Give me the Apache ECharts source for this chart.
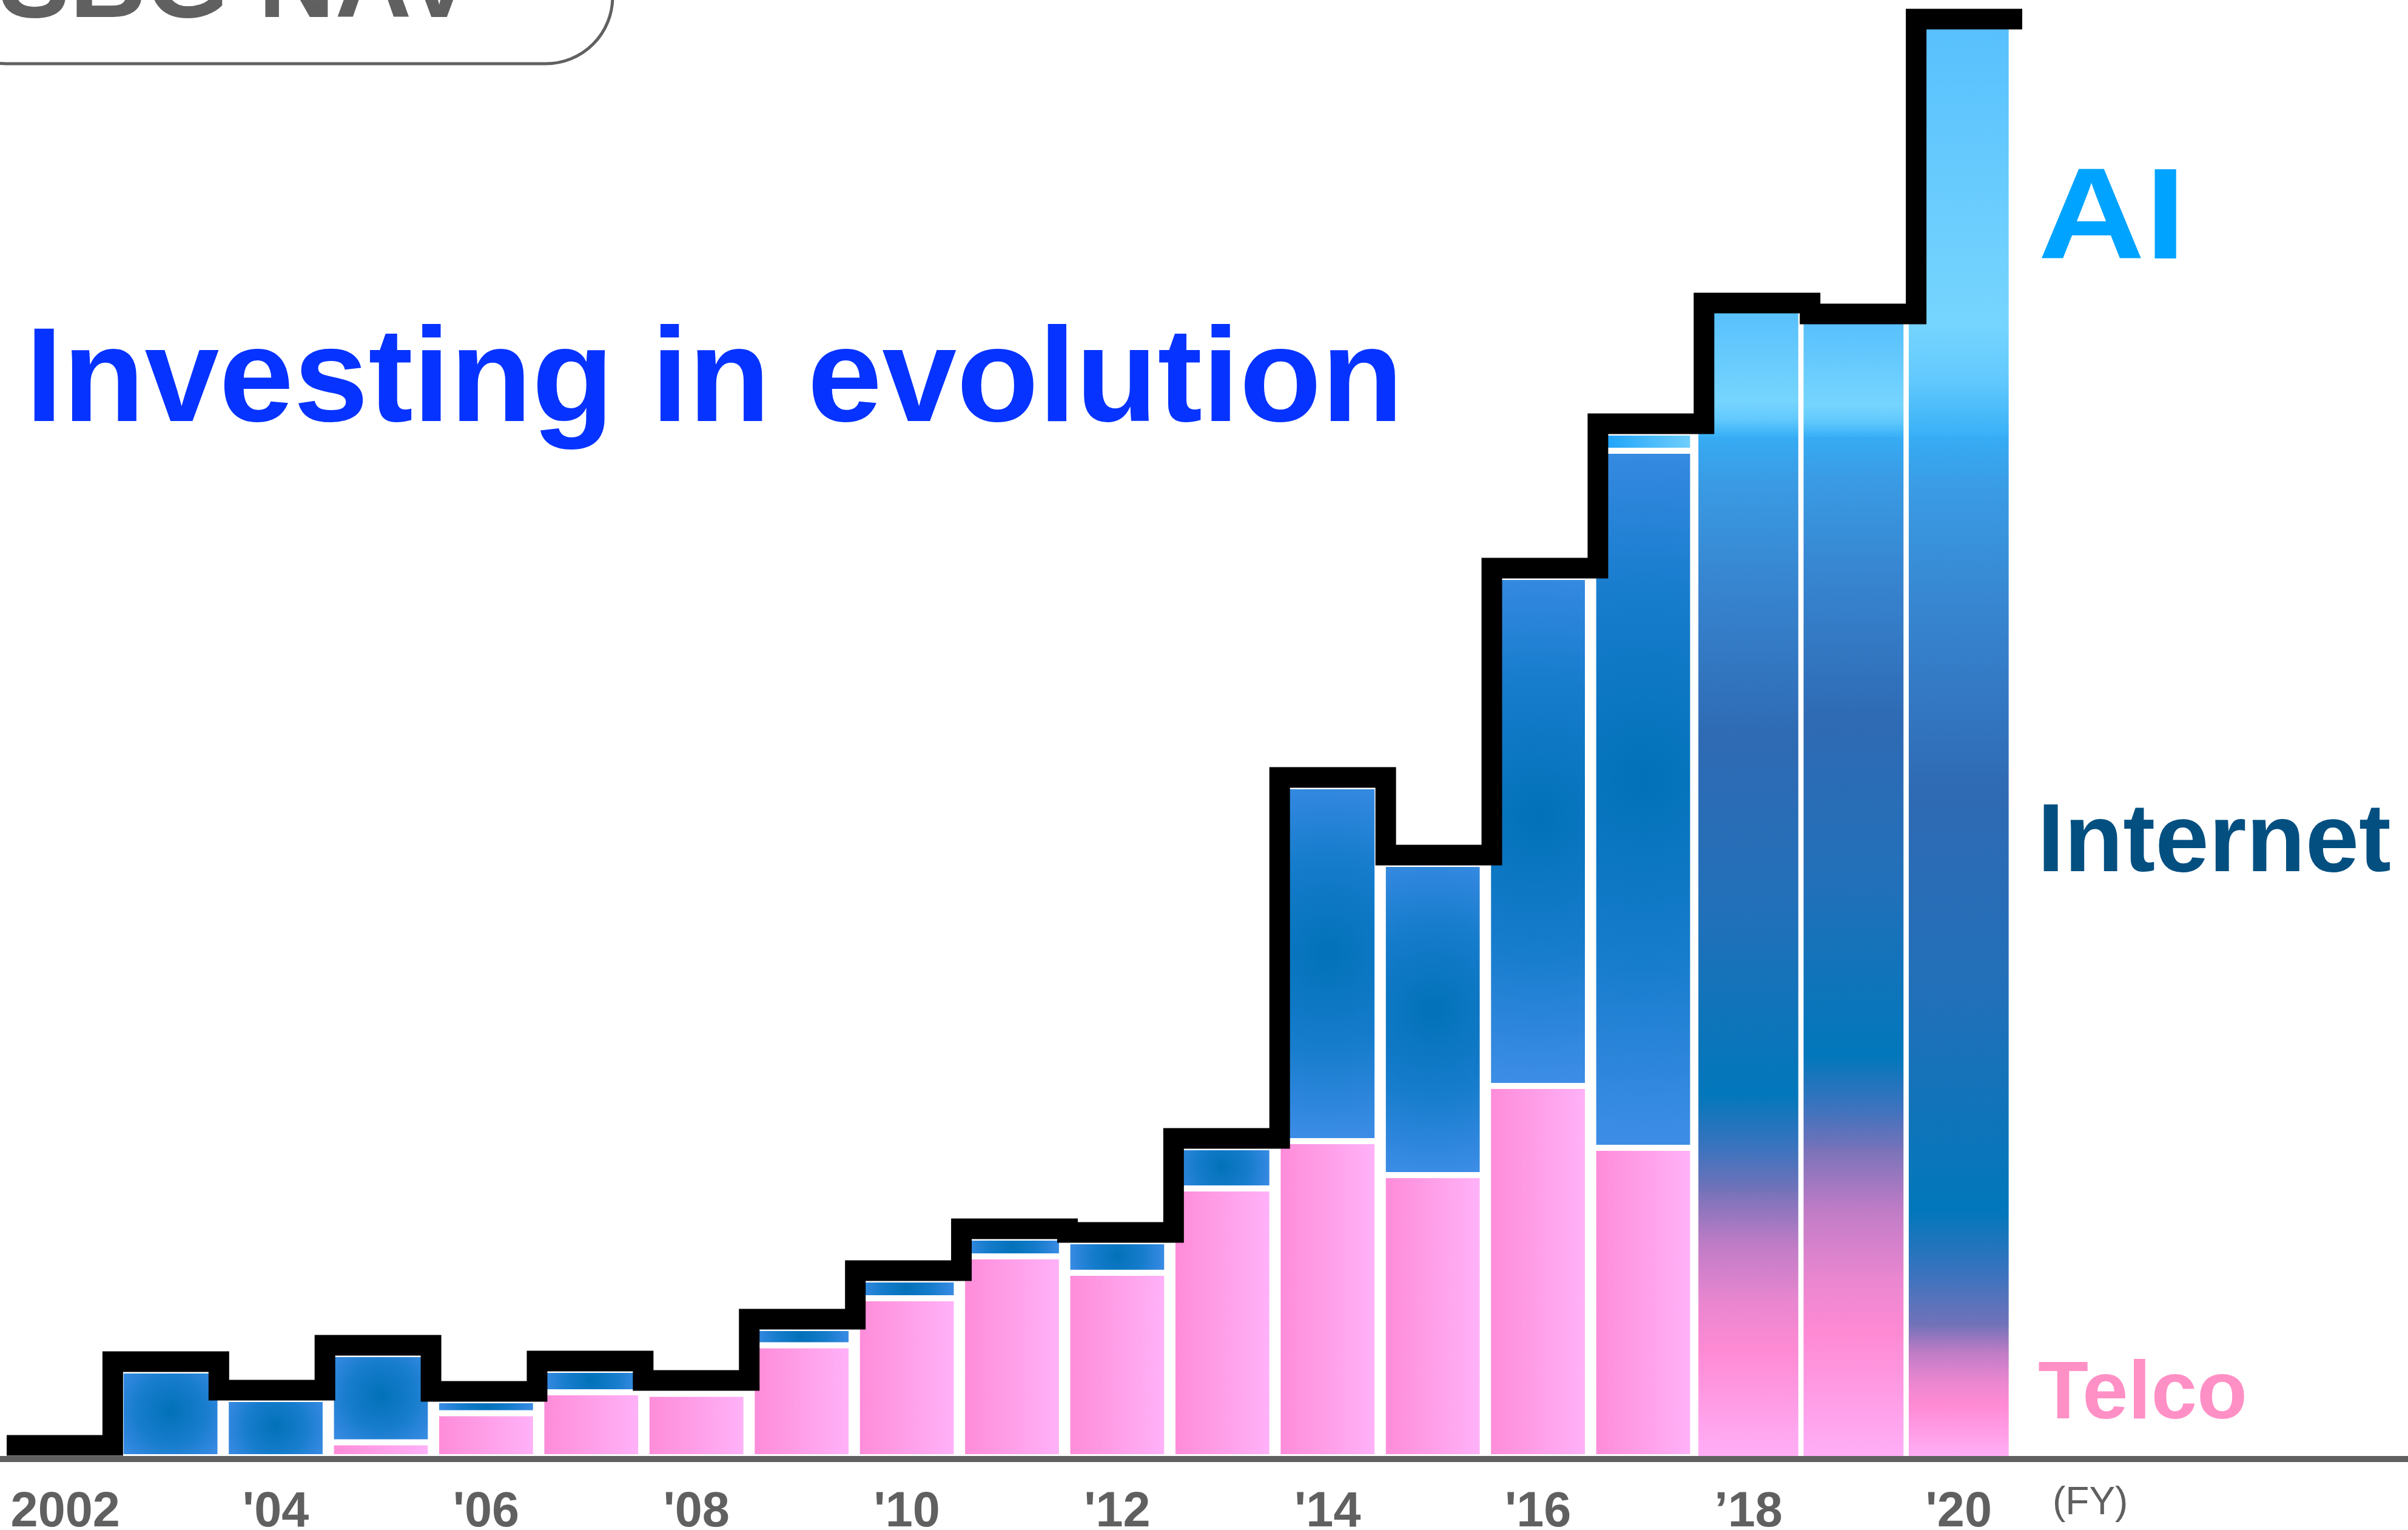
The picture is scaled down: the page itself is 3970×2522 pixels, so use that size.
<!DOCTYPE html>
<html>
<head>
<meta charset="utf-8">
<title>SBG NAV – Investing in evolution</title>
<script src="https://cdn.jsdelivr.net/npm/echarts@6/dist/echarts.min.js"></script>
<style>
  html, body { margin: 0; padding: 0; background: #ffffff; }
  #chart { width: 3970px; height: 2522px; }
</style>
</head>
<body>
<div id="chart"></div>
<script>
// Fiscal years on the category axis
const years = [2002, 2003, 2004, 2005, 2006, 2007, 2008, 2009, 2010, 2011,
               2012, 2013, 2014, 2015, 2016, 2017, 2018, 2019, 2020];
const tickLabels = ['2002', '', "'04", '', "'06", '', "'08", '', "'10", '',
                    "'12", '', "'14", '', "'16", '', '\u201918', '', "'20"];

// NAV split by business (arbitrary units, read per fiscal year)
const telco    = [null, null, null, 0.245, 0.725, 1.07, 1.045, 1.845, 2.62, 3.31,
                  3.04, 4.43, 5.21, 4.65, 6.12, 5.10, 4.37, 5.09, 2.15];
const internet = [null, 1.43, 0.96, 1.455, 0.215, 0.37, 0.075, 0.285, 0.31, 0.31,
                  0.52, 0.68, 5.85, 5.13, 8.39, 11.49, 12.45, 11.73, 14.67];
const ai       = [null, null, null, null, null, null, null, null, null, null,
                  null, null, null, null, null, 0.30, 2.06, 1.88, 6.74];
// FY2002 NAV, shown only by the outline
const navFirstYear = 0.05;
// From this year on the three businesses are painted as one blended column
const blendFromYear = 2018;

const totals = years.map((y, i) =>
  i === 0 ? navFirstYear : (telco[i] || 0) + (internet[i] || 0) + (ai[i] || 0));

// Outline points sit on the column edges: x = index ± 0.5
const outline = totals.map((v, i) => [i - 0.5, v]);
outline.push([totals.length - 0.5, totals[totals.length - 1]]);

// Layout
const W = 3970, H = 2522;
const gridTop = 2, gridBottom = 120, gridLeft = 21, gridRight = 654;
const yMax = 24;
const pxPerUnit = (H - gridTop - gridBottom) / yMax;
const colPx = (W - gridLeft - gridRight) / years.length * 0.95 - 5;
const outlineHalf = 17, gapBorder = 2.5;

// Fills
const telcoFlat = { type: 'linear', x: 0, y: 0, x2: 1, y2: 0,
  colorStops: [{ offset: 0, color: '#ff8bd8' }, { offset: 1, color: '#ffb3f9' }] };
const aiFlat = { type: 'linear', x: 0, y: 0, x2: 1, y2: 0,
  colorStops: [{ offset: 0, color: '#139dfa' }, { offset: 1, color: '#72d0fd' }] };
function internetGlow(v) {
  const h = Math.max(v * pxPerUnit, 1);
  const m = Math.min(colPx, h);
  const r = Math.sqrt((colPx / 2) ** 2 + (h / 2) ** 2) / m;
  return { type: 'radial', x: 0.5, y: 0.47, r: r,
    colorStops: [{ offset: 0, color: '#0271b9' }, { offset: 0.5, color: '#167ccc' },
                 { offset: 1, color: '#3d8de6' }] };
}
const aiBlend = { type: 'linear', x: 0, y: 0, x2: 0, y2: 1,
  colorStops: [{ offset: 0, color: '#58c0fd' }, { offset: 0.72, color: '#76d5fe' },
               { offset: 0.86, color: '#62c9fd' }, { offset: 1, color: '#38b0f7' }] };
const internetBlend = { type: 'linear', x: 0, y: 0, x2: 0, y2: 1,
  colorStops: [{ offset: 0, color: '#36acf4' }, { offset: 0.06, color: '#3a9be4' },
               { offset: 0.2, color: '#3784cf' }, { offset: 0.4, color: '#2f6ab4' },
               { offset: 0.62, color: '#2270b9' }, { offset: 0.87, color: '#0277bb' },
               { offset: 0.94, color: '#3a73be' }, { offset: 1, color: '#7472b9' }] };
const telcoBlend = { type: 'linear', x: 0, y: 0, x2: 0, y2: 1,
  colorStops: [{ offset: 0, color: '#7873ba' }, { offset: 0.2, color: '#c07cc6' },
               { offset: 0.42, color: '#ea86d0' }, { offset: 0.6, color: '#ff8ad4' },
               { offset: 1, color: '#ffaff7' }] };

function items(values, flatFill, blendFill) {
  return values.map((v, i) => {
    if (v == null) return '-';
    const blended = years[i] >= blendFromYear;
    const fill = blended ? blendFill : (typeof flatFill === 'function' ? flatFill(v) : flatFill);
    const style = { color: fill };
    if (blended) style.borderWidth = 0;
    return { value: v, itemStyle: style };
  });
}

const FONT = '"Liberation Sans", Arial, Helvetica, sans-serif';
// baseline -> centre of a single line drawn with verticalAlign 'middle'
const mid = (baseline, size) => baseline - 0.287 * size;

function label(text, x, baseline, size, weight, fill, stretch) {
  const el = { type: 'text', z: 50, silent: true,
    style: { text: text, x: x, y: mid(baseline, size),
             font: weight + ' ' + size + 'px ' + FONT, fill: fill,
             textAlign: 'left', align: 'left',
             textVerticalAlign: 'middle', verticalAlign: 'middle' } };
  if (stretch) {
    el.scaleX = stretch;
    el.originX = x;
    el.originY = mid(baseline, size);
  }
  return el;
}

const barBase = {
  type: 'bar', stack: 'nav', xAxisIndex: 0, yAxisIndex: 0,
  barWidth: '95%', animation: false, silent: true,
  itemStyle: { borderColor: '#ffffff', borderWidth: 5 }
};

const option = {
  backgroundColor: '#ffffff',
  animation: false,
  grid: [
    { left: gridLeft, right: gridRight, top: gridTop, bottom: gridBottom,
      outerBoundsMode: 'none', containLabel: false },
    { left: 11, right: W - 3334, top: gridTop - outlineHalf + gapBorder,
      bottom: gridBottom + outlineHalf - gapBorder, outerBoundsMode: 'none', containLabel: false }
  ],
  xAxis: [
    { type: 'category', gridIndex: 0, data: years, boundaryGap: true,
      axisLine: { show: false }, axisTick: { show: false }, splitLine: { show: false },
      axisLabel: { interval: 0, margin: 51, color: '#606060', fontWeight: 'bold',
                   fontSize: 81, fontFamily: FONT,
                   formatter: (val, idx) => tickLabels[idx] } },
    { type: 'value', gridIndex: 1, min: -0.5, max: years.length - 0.5, show: false }
  ],
  yAxis: [
    { type: 'value', gridIndex: 0, min: 0, max: yMax, show: false, splitLine: { show: false } },
    { type: 'value', gridIndex: 1, min: 0, max: yMax, show: false, splitLine: { show: false } }
  ],
  series: [
    Object.assign({ name: 'Telco', data: items(telco, telcoFlat, telcoBlend) }, barBase),
    Object.assign({ name: 'Internet', data: items(internet, internetGlow, internetBlend) }, barBase),
    Object.assign({ name: 'AI', data: items(ai, aiFlat, aiBlend) }, barBase),
    { name: 'SBG NAV', type: 'line', xAxisIndex: 1, yAxisIndex: 1, data: outline,
      step: 'end', symbol: 'none', showSymbol: false, clip: false, silent: true,
      animation: false, z: 10,
      lineStyle: { color: '#000000', width: 34, cap: 'butt', join: 'miter', miterLimit: 10 } }
  ],
  graphic: [
    // rounded header box running off the top-left corner
    { type: 'rect', z: 1, silent: true,
      shape: { x: -100, y: -300, width: 1110, height: 405, r: 110 },
      style: { fill: '#ffffff', stroke: '#606060', lineWidth: 5 } },
    label('SBG NAV', -2, 30, 175, 'bold', '#606060'),
    label('Investing in evolution', 42, 696, 221, 'bold', '#0633ff'),
    label('AI', 3360, 428, 214, 'bold', '#00a3ff', 1.14),
    label('Internet', 3359, 1438, 159, 'bold', '#024f80'),
    label('Telco', 3360, 2340, 136, 'bold', '#ff90c6'),
    label('(FY)', 3384, 2497, 64, 'normal', '#606060'),
    // baseline across the full width
    { type: 'line', z: 100, silent: true,
      shape: { x1: 0, y1: 2405, x2: W, y2: 2405 },
      style: { stroke: '#606060', lineWidth: 10 } }
  ]
};

const chart = echarts.init(document.getElementById('chart'), null, { renderer: 'canvas', width: W, height: H });
chart.setOption(option);
</script>
</body>
</html>
